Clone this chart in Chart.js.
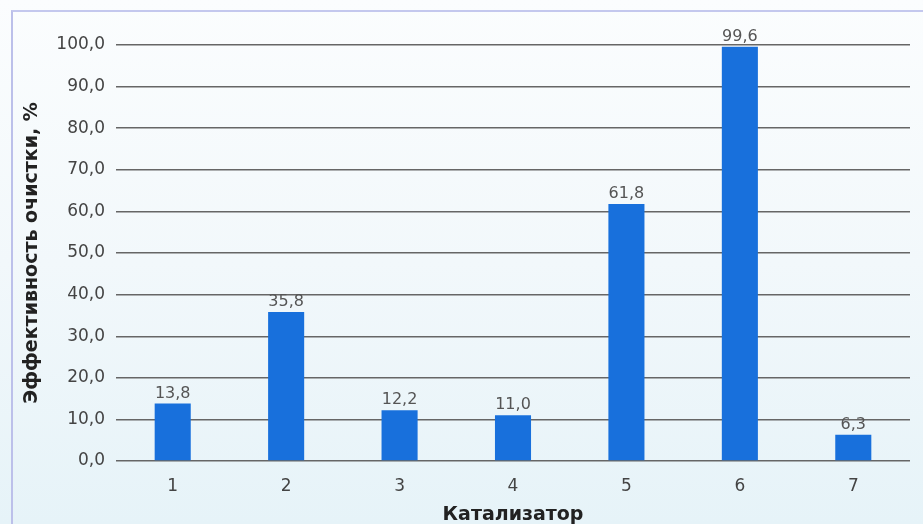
<!DOCTYPE html>
<html>
<head>
<meta charset="utf-8">
<script src="https://cdn.jsdelivr.net/npm/chart.js@4"></script>
<style>
  html, body { margin: 0; padding: 0; }
  body { width: 923px; height: 524px; overflow: hidden; position: relative;
         background: linear-gradient(to bottom, #fbfdfe 0%, #f2f8fb 50%, #e6f3f8 100%); }
  #frame { position: absolute; left: 11px; top: 10px; right: -4px; bottom: -4px;
           border-left: 2px solid #bcc0ea; border-top: 2px solid #c4c8ee; }
  #wrap { position: absolute; left: 0; top: 0; width: 923px; height: 524px; }
</style>
</head>
<body>
<div id="frame"></div>
<div id="wrap"><canvas id="c" width="923" height="524"></canvas></div>
<script>
const categories = ['1', '2', '3', '4', '5', '6', '7'];
const efficiency = [13.8, 35.8, 12.2, 11.0, 61.8, 99.6, 6.3];
const yTitle = 'Эффективность очистки, %';
const xTitle = 'Катализатор';

const fmt = v => v.toFixed(1).replace('.', ',');

const valueLabels = {
  id: 'valueLabels',
  afterDatasetsDraw(chart) {
    const ctx = chart.ctx;
    const meta = chart.getDatasetMeta(0);
    ctx.save();
    ctx.font = '16px "DejaVu Sans"';
    ctx.fillStyle = '#555';
    ctx.textAlign = 'center';
    ctx.textBaseline = 'alphabetic';
    meta.data.forEach((bar, i) => {
      ctx.fillText(fmt(chart.data.datasets[0].data[i]), bar.x, bar.y - 6);
    });
    ctx.restore();
  }
};

new Chart(document.getElementById('c'), {
  type: 'bar',
  data: {
    labels: categories,
    datasets: [{
      data: efficiency,
      backgroundColor: '#1870dc',
      borderWidth: 0,
      barPercentage: 0.318,
      categoryPercentage: 1.0
    }]
  },
  options: {
    responsive: false,
    animation: false,
    devicePixelRatio: 1,
    layout: { padding: { top: 45, right: 13, left: 0, bottom: 0 } },
    plugins: { legend: { display: false }, tooltip: { enabled: false } },
    scales: {
      x: {
        grid: { display: false, drawTicks: false },
        border: { display: false },
        ticks: { color: '#444', font: { family: 'DejaVu Sans', size: 17 }, padding: 15 },
        title: { display: true, text: xTitle, color: '#222',
                 font: { family: 'DejaVu Sans', size: 19, weight: 'bold' },
                 padding: { top: 0, bottom: -2 } },
        afterFit(scale) { scale.height = 63; }
      },
      y: {
        min: 0, max: 100,
        grid: { color: '#666', lineWidth: 1.4, drawTicks: false },
        border: { display: false },
        ticks: { stepSize: 10, color: '#444', padding: 11,
                 font: { family: 'DejaVu Sans', size: 17 },
                 callback: v => fmt(v) },
        title: { display: true, text: yTitle, color: '#222',
                 font: { family: 'DejaVu Sans', size: 19, weight: 'bold' },
                 padding: { top: 21, bottom: 0 } },
        afterFit(scale) { scale.width = 116; }
      }
    }
  },
  plugins: [valueLabels]
});
</script>
</body>
</html>
